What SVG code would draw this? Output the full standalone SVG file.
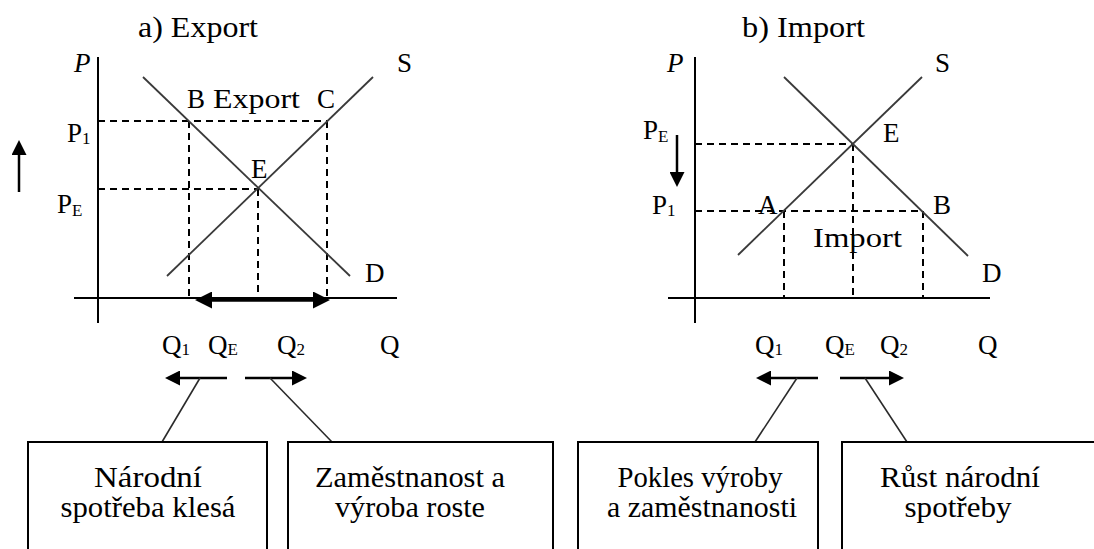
<svg xmlns="http://www.w3.org/2000/svg" width="1094" height="549" viewBox="0 0 1094 549">
<style>
.t{font-family:"Liberation Serif","Times New Roman",serif;fill:#000}
.ttl{font-size:29px}
.lb{font-size:27px}
.bx{font-size:29px;text-anchor:middle}
.sub{font-size:17px}
.ax{stroke:#000;stroke-width:2;fill:none}
.cv{stroke:#3a3a3a;stroke-width:1.8;fill:none}
.ds{stroke:#000;stroke-width:2;fill:none;stroke-dasharray:7,5}
.box{fill:#fff;stroke:#000;stroke-width:2}
.ln{stroke:#2a2a2a;stroke-width:1.6;fill:none}
.ar{stroke:#000;stroke-width:2.5;fill:none}
.ar3{stroke:#000;stroke-width:3.5;fill:none}
</style>
<defs>
<marker id="ah" viewBox="0 0 10 10" refX="0" refY="5" markerWidth="18" markerHeight="15" markerUnits="userSpaceOnUse" orient="auto-start-reverse"><path d="M0,0 L10,5 L0,10 z" fill="#000"/></marker>
<marker id="ah2" viewBox="0 0 10 10" refX="0" refY="5" markerWidth="20" markerHeight="17" markerUnits="userSpaceOnUse" orient="auto-start-reverse"><path d="M0,0 L10,5 L0,10 z" fill="#000"/></marker>
</defs>

<g id="panel-export">
<text class="t ttl" x="138" y="37" textLength="120" lengthAdjust="spacingAndGlyphs">a) Export</text>
<line class="ax" x1="98" y1="57" x2="98" y2="323"/>
<line class="ax" x1="74" y1="298" x2="397" y2="298"/>
<line class="ds" x1="98" y1="121" x2="327" y2="121"/>
<line class="ds" x1="98" y1="189" x2="258" y2="189"/>
<line class="ds" x1="189" y1="121" x2="189" y2="298"/>
<line class="ds" x1="258" y1="189" x2="258" y2="298"/>
<line class="ds" x1="327" y1="121" x2="327" y2="298"/>
<line class="cv" x1="143" y1="77" x2="350" y2="276"/>
<line class="cv" x1="167" y1="276" x2="373" y2="77"/>
<text class="t lb" x="74" y="72" font-style="italic">P</text>
<text class="t lb" x="397" y="72">S</text>
<text class="t lb" x="187" y="108">B</text>
<text class="t lb" x="213" y="108" textLength="87" lengthAdjust="spacingAndGlyphs">Export</text>
<text class="t lb" x="317" y="108">C</text>
<text class="t lb" x="251" y="178">E</text>
<text class="t lb" x="67" y="142">P<tspan class="sub" dy="2">1</tspan></text>
<text class="t lb" x="57" y="213">P<tspan class="sub" dy="3">E</tspan></text>
<text class="t lb" x="365" y="282">D</text>
<text class="t lb" x="162" y="354">Q<tspan class="sub" dy="1">1</tspan></text>
<text class="t lb" x="208" y="354">Q<tspan class="sub" dy="1">E</tspan></text>
<text class="t lb" x="277" y="354">Q<tspan class="sub" dy="1">2</tspan></text>
<text class="t lb" x="380" y="354">Q</text>
</g>

<g id="panel-import">
<text class="t ttl" x="742" y="37" textLength="123" lengthAdjust="spacingAndGlyphs">b) Import</text>
<line class="ax" x1="695" y1="57" x2="695" y2="323"/>
<line class="ax" x1="668" y1="298" x2="990" y2="298"/>
<line class="ds" x1="695" y1="144" x2="853" y2="144"/>
<line class="ds" x1="695" y1="211" x2="923" y2="211"/>
<line class="ds" x1="784" y1="211" x2="784" y2="298"/>
<line class="ds" x1="853" y1="144" x2="853" y2="298"/>
<line class="ds" x1="923" y1="211" x2="923" y2="298"/>
<line class="cv" x1="784" y1="77" x2="968" y2="256"/>
<line class="cv" x1="738" y1="255" x2="922" y2="77"/>
<text class="t lb" x="667" y="72" font-style="italic">P</text>
<text class="t lb" x="935" y="72">S</text>
<text class="t lb" x="883" y="142">E</text>
<text class="t lb" x="643" y="139">P<tspan class="sub" dy="3">E</tspan></text>
<text class="t lb" x="652" y="214">P<tspan class="sub" dy="2">1</tspan></text>
<text class="t lb" x="758" y="214">A</text>
<text class="t lb" x="933" y="214">B</text>
<text class="t lb" x="813" y="247" textLength="89" lengthAdjust="spacingAndGlyphs">Import</text>
<text class="t lb" x="982" y="282">D</text>
<text class="t lb" x="755" y="354">Q<tspan class="sub" dy="1">1</tspan></text>
<text class="t lb" x="825" y="354">Q<tspan class="sub" dy="1">E</tspan></text>
<text class="t lb" x="880" y="354">Q<tspan class="sub" dy="1">2</tspan></text>
<text class="t lb" x="978" y="354">Q</text>
</g>

<g id="connectors">
<line class="ar" x1="19" y1="192" x2="19" y2="155" marker-end="url(#ah)"/>
<line class="ar" x1="677" y1="135" x2="677" y2="172" marker-end="url(#ah)"/>
<line class="ar3" x1="212" y1="300" x2="313" y2="300" marker-start="url(#ah2)" marker-end="url(#ah2)"/>
<line class="ar" x1="227" y1="378" x2="180" y2="378" marker-end="url(#ah)"/>
<line class="ar" x1="245" y1="378" x2="292" y2="378" marker-end="url(#ah)"/>
<line class="ar" x1="818" y1="378" x2="771" y2="378" marker-end="url(#ah)"/>
<line class="ar" x1="840" y1="378" x2="889" y2="378" marker-end="url(#ah)"/>
<line class="ln" x1="200" y1="378" x2="162" y2="442"/>
<line class="ln" x1="270" y1="378" x2="332" y2="442"/>
<line class="ln" x1="797" y1="378" x2="755" y2="442"/>
<line class="ln" x1="865" y1="378" x2="907" y2="442"/>
</g>

<g id="box-narodni">
<rect class="box" x="28" y="442" width="239" height="120"/>
<text class="t bx" x="148" y="487" textLength="108" lengthAdjust="spacingAndGlyphs">Národní</text>
<text class="t bx" x="148" y="517" textLength="175" lengthAdjust="spacingAndGlyphs">spotřeba klesá</text>
</g>
<g id="box-zamestnanost">
<rect class="box" x="288" y="442" width="265" height="120"/>
<text class="t bx" x="410" y="487" textLength="190" lengthAdjust="spacingAndGlyphs">Zaměstnanost a</text>
<text class="t bx" x="410" y="517" textLength="150" lengthAdjust="spacingAndGlyphs">výroba roste</text>
</g>
<g id="box-pokles">
<rect class="box" x="578" y="442" width="240" height="120"/>
<text class="t bx" x="700" y="487" textLength="165" lengthAdjust="spacingAndGlyphs">Pokles výroby</text>
<text class="t bx" x="702" y="517" textLength="190" lengthAdjust="spacingAndGlyphs">a zaměstnanosti</text>
</g>
<g id="box-rust">
<rect class="box" x="842" y="442" width="270" height="120"/>
<text class="t bx" x="960" y="487" textLength="160" lengthAdjust="spacingAndGlyphs">Růst národní</text>
<text class="t bx" x="958" y="517" textLength="107" lengthAdjust="spacingAndGlyphs">spotřeby</text>
</g>
</svg>
